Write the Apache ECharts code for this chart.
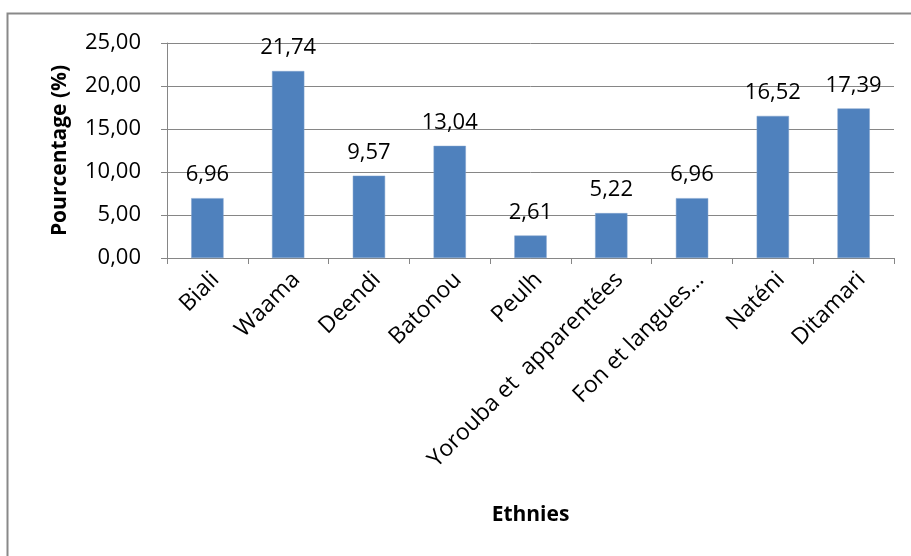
<!DOCTYPE html>
<html>
<head>
<meta charset="utf-8">
<script src="https://cdn.jsdelivr.net/npm/echarts@6/dist/echarts.min.js"></script>
<style>
  html, body { margin: 0; padding: 0; background: #fff; }
  #chart { width: 911px; height: 556px; }
</style>
</head>
<body>
<div id="chart"></div>
<script>
// Ethnic groups and their share (%)
const ethnies = ['Biali', 'Waama', 'Deendi', 'Batonou', 'Peulh',
  'Yorouba et  apparentées', 'Fon et langues…', 'Naténi', 'Ditamari'];
const pourcentages = [6.96, 21.74, 9.57, 13.04, 2.61, 5.22, 6.96, 16.52, 17.39];
const yTicks = [0, 5, 10, 15, 20, 25];

const FONT = '"Open Sans", "Liberation Sans", sans-serif';
const FS = 22;
const fmt = v => v.toFixed(2).replace('.', ',');

const chart = echarts.init(document.getElementById('chart'));
chart.setOption({
  backgroundColor: '#ffffff',
  animation: false,
  textStyle: { fontFamily: FONT },
  graphic: [{
    type: 'rect',
    shape: { x: 7.5, y: 13.5, width: 1000, height: 1000 },
    style: { fill: 'none', stroke: '#898989', lineWidth: 2 },
    silent: true
  }],
  grid: { left: 167, right: 17, top: 43, bottom: 298, containLabel: false },
  xAxis: {
    type: 'category',
    data: ethnies,
    name: 'Ethnies',
    nameLocation: 'middle',
    nameGap: 247,
    nameTextStyle: { fontFamily: FONT, fontSize: 21, fontWeight: 'bold', color: '#000' },
    axisLine: { lineStyle: { color: '#868686', width: 1 } },
    axisTick: { show: true, length: 6, lineStyle: { color: '#868686' } },
    axisLabel: {
      rotate: 45, fontSize: 23, color: '#000', margin: 10, fontFamily: FONT,
      align: 'right', verticalAlign: 'top'
    }
  },
  yAxis: {
    type: 'value',
    min: yTicks[0],
    max: yTicks[yTicks.length - 1],
    interval: 5,
    name: 'Pourcentage (%)',
    nameLocation: 'middle',
    nameGap: 96,
    nameTextStyle: { fontFamily: FONT, fontSize: 21, fontWeight: 'bold', color: '#000' },
    axisLine: { show: true, lineStyle: { color: '#868686', width: 1 } },
    axisTick: { show: true, length: 6, lineStyle: { color: '#868686' } },
    splitLine: { lineStyle: { color: '#868686', width: 1 } },
    axisLabel: { formatter: fmt, fontSize: FS, color: '#000', margin: 26, fontFamily: FONT }
  },
  series: [{
    type: 'bar',
    data: pourcentages,
    barWidth: '40%',
    itemStyle: { color: '#4F81BD', borderColor: '#7FA1CC', borderWidth: 0.5 },
    label: {
      show: true,
      position: 'top',
      distance: 12,
      formatter: p => fmt(p.value),
      fontSize: FS,
      color: '#000',
      fontFamily: FONT
    }
  }]
});
</script>
</body>
</html>
